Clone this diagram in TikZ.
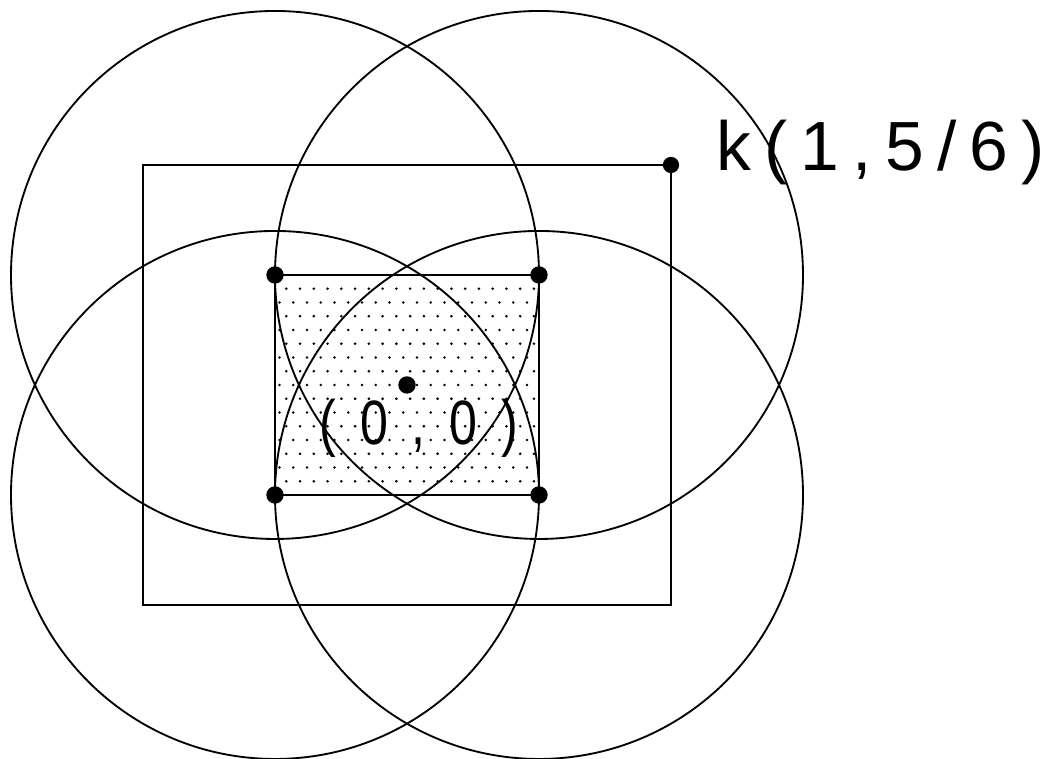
\documentclass[tikz,border=0pt]{standalone}
\usepackage{fontspec}
\newfontfamily\plotfont[LetterSpace=19]{Liberation Sans}
\newfontfamily\originfont[LetterSpace=38,FakeStretch=0.8]{Liberation Sans}

\begin{document}
\begin{tikzpicture}[x=4cm, y=4cm,
  bigdot/.style={circle, fill=black, inner sep=0pt, minimum size=7.5pt},
  frame/.style={line width=1pt},
  ring/.style={line width=0.8pt}]
  \useasboundingbox (-1.5417,-1.4167) rectangle (2.4811,1.4583);
  % dot fill of the inner rectangle
  \foreach \j in {1,...,15} {
    \pgfmathsetmacro{\off}{0.017+0.026*mod(\j,2)}
    \foreach \i in {0,...,18}
      \fill (-0.5+\off+\i*0.0521, 5/12-\j*0.0521) circle (0.6pt);
  }
  \node[bigdot] (origin) at (0,0) {};
  \node[bigdot] (nw) at (-0.5,5/12) {};
  \node[bigdot] (ne) at (0.5,5/12) {};
  \node[bigdot] (sw) at (-0.5,-5/12) {};
  \node[bigdot] (se) at (0.5,-5/12) {};
  \node[bigdot, minimum size=7pt] (kcorner) at (1,5/6) {};
  \coordinate (kneg) at (-1,-5/6);
  \draw[frame] (nw.center) rectangle (se.center);
  \draw[frame] (kneg) rectangle (kcorner.center);
  \foreach \c in {nw,ne,sw,se}
    \draw[ring] (\c.center) circle (1);
  \node[anchor=base west, inner sep=0pt] (klabel) at (1.17,0.814)
    {\plotfont\fontsize{30}{34}\selectfont k(1,5/6)};
  \node[anchor=base, inner sep=0pt] (originlabel) at (0.045,-0.227)
    {\originfont\fontsize{27}{30}\selectfont (0,0)};
\end{tikzpicture}
\end{document}
